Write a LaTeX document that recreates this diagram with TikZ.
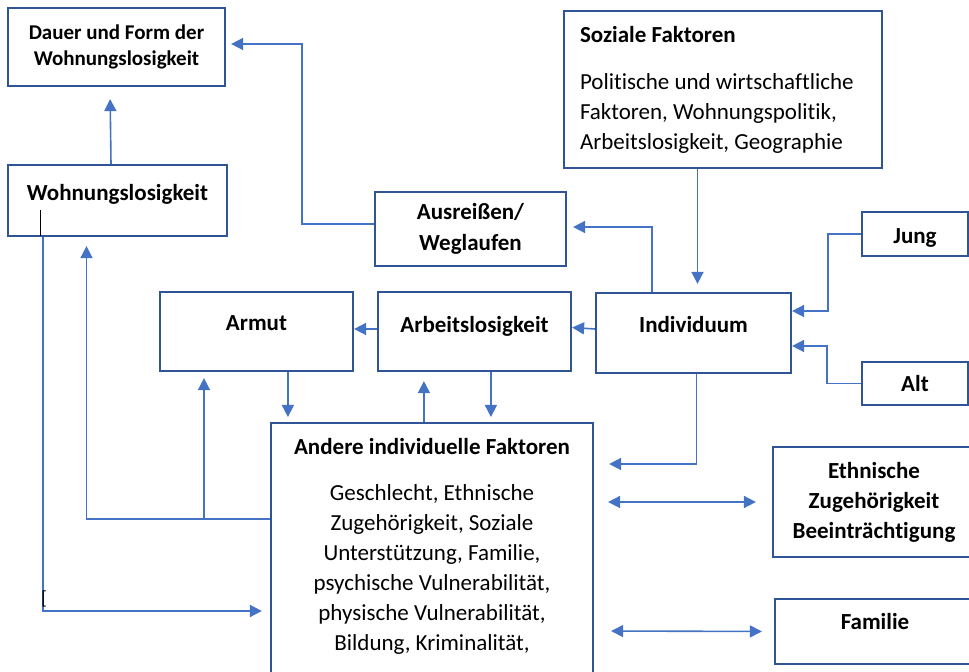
\documentclass[tikz,border=0pt]{standalone}
\usepackage{fontspec}
\setmainfont{Carlito}[Ligatures=NoCommon]
\usetikzlibrary{arrows.meta}

\definecolor{boxblue}{RGB}{47,85,151}
\definecolor{lineblue}{RGB}{68,114,196}

\tikzset{
	box/.style={draw=boxblue, line width=1.1pt, fill=white, align=flush center, inner sep=0pt,
		font=\bfseries\fontsize{11.5}{15}\selectfont},
	onebox/.style={box, text height=8pt, text depth=#1},
	arr/.style={draw=lineblue, line width=0.8pt, -{Triangle[length=6pt,width=6pt]}},
	dbl/.style={draw=lineblue, line width=0.8pt, {Triangle[length=6pt,width=6pt]}-{Triangle[length=6pt,width=6pt]}},
}

\begin{document}
\begin{tikzpicture}[x=0.5pt, y=-0.5pt]
	\useasboundingbox (0,0) rectangle (969,672);
	\clip (0,0) rectangle (969,672);

	% boxes
	\node[box, minimum width=108.5pt, minimum height=39pt, font=\bfseries\fontsize{10.5}{13}\selectfont] (dauer) at (116.5, 47) {Dauer und Form der\\ Wohnungslosigkeit};
	\node[onebox=7.5pt, minimum width=109.5pt, minimum height=35.5pt] (wohn) at (117.5, 200.5) {Wohnungslosigkeit};
	\node[box, minimum width=95.5pt, minimum height=37pt] (ausr) at (470.5, 229) {Ausreißen/\\[0.5pt] Weglaufen};
	\node[onebox=8.5pt, minimum width=96.5pt, minimum height=39.5pt] (armut) at (256.5, 331.5) {Armut};
	\node[onebox=6.5pt, minimum width=96.5pt, minimum height=39.5pt] (arbeit) at (474.5, 331.5) {Arbeitslosigkeit};
	\node[onebox=8pt, minimum width=97.5pt, minimum height=40pt] (indiv) at (693.5, 333) {Individuum};
	\node[box, align=flush left, text width=143pt, inner xsep=8pt, minimum height=78.5pt,
		font=\fontsize{11.5}{15}\selectfont] (sozial) at (723, 89.5)
		{\textbf{Soziale Faktoren}\\[8.5pt] Politische und wirtschaftliche\\ Faktoren, Wohnungspolitik,\\ Arbeitslosigkeit, Geographie};
	\node[box, text height=10pt, text depth=0pt, minimum width=53pt, minimum height=22pt] (jung) at (915, 234) {Jung};
	\node[box, minimum width=53pt, minimum height=21.5pt] (alt) at (915, 383.5) {Alt};
	\node[box, anchor=north, text width=153pt, inner xsep=4pt, inner ysep=7.5pt,
		font=\fontsize{11.5}{15}\selectfont] (andere) at (432, 422)
		{\textbf{Andere individuelle Faktoren}\\[8pt] Geschlecht, Ethnische\\ Zugehörigkeit, Soziale\\ Unterstützung, Familie,\\ psychische Vulnerabilität,\\ physische Vulnerabilität,\\ Bildung, Kriminalität,\rule[-14pt]{0pt}{0pt}};
	\node[box, minimum width=101pt, minimum height=55pt] (ethn) at (874, 502) {Ethnische\\ Zugehörigkeit\\ Beeinträchtigung};
	\node[onebox=9.5pt, minimum width=100pt, minimum height=32.5pt] (famil) at (875, 631.5) {Familie};

	% bend points on Andere
	\coordinate (split) at ([yshift=-48.5pt]andere.north west);
	\coordinate (low) at ([yshift=-94.5pt]andere.north west);
	\coordinate (mid) at ([yshift=-21pt]andere.north east);

	% connectors
	\draw[arr, shorten >=6pt] ([xshift=-3.25pt]wohn.north) -- ([xshift=-3.25pt]dauer.south);
	\draw[arr, shorten >=2.5pt] ([yshift=2.5pt]ausr.west) -| ([xshift=38pt, yshift=1.5pt]dauer.east) -- ([yshift=1.5pt]dauer.east);
	\draw[arr, shorten >=3pt] ([xshift=-20.75pt]indiv.north) |- ([yshift=1pt]ausr.east);
	\draw[arr, shorten >=4pt] ([xshift=2pt]indiv.north |- sozial.south) -- ([xshift=2pt]indiv.north);
	\draw[arr] (jung.west) -| ([xshift=18pt, yshift=11pt]indiv.east) -- ([yshift=11pt]indiv.east);
	\draw[arr] (alt.west) -| ([xshift=17.5pt, yshift=-6.5pt]indiv.east) -- ([yshift=-6.5pt]indiv.east);
	\draw[arr] ([yshift=2pt]indiv.west) -- ([yshift=2pt]arbeit.east);
	\draw[arr] ([yshift=1.25pt]arbeit.west) -- ([yshift=1.25pt]armut.east);
	\draw[arr, shorten >=2.5pt] ([xshift=9pt]andere.north west |- armut.south) -- ([xshift=9pt]andere.north west);
	\draw[arr, shorten >=4.5pt] ([xshift=77pt]andere.north west) -- ([xshift=77pt]andere.north west |- arbeit.south);
	\draw[arr, shorten >=2.5pt] ([xshift=110.5pt]andere.north west |- arbeit.south) -- ([xshift=110.5pt]andere.north west);
	\draw[arr, shorten >=4.5pt] (split) -| ([xshift=-15.5pt]wohn.south);
	\draw[arr, shorten >=3pt] ([xshift=-26.25pt]armut.south |- split) -- ([xshift=-26.25pt]armut.south);
	\draw[arr, shorten >=4pt] ([xshift=-37.25pt]wohn.south) |- (low);
	\draw[arr, shorten >=7.5pt] ([xshift=1.5pt]indiv.south) |- (mid);
	\draw[dbl, shorten <=7pt, shorten >=8pt] ([yshift=-40pt]andere.north east) -- (ethn.west);
	\draw[dbl, shorten <=8.5pt, shorten >=6pt] ([yshift=-104.5pt]andere.north east) -- (famil.west);

	% cursor marks
	\draw[black, line width=0.4pt] (40, 210) -- (40, 236);
	\node[inner sep=0pt, font=\fontsize{9.5}{9.5}\selectfont] (caret) at (44, 599) {[};
\end{tikzpicture}
\end{document}
